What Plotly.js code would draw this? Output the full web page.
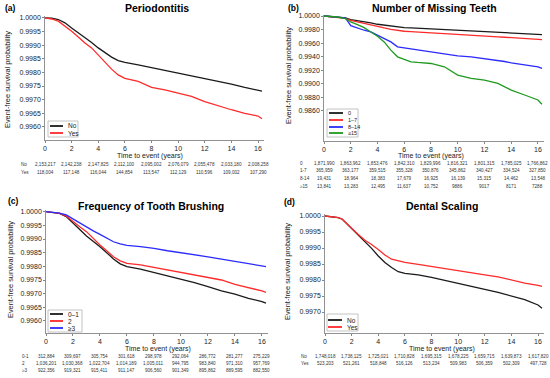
<!DOCTYPE html>
<html><head><meta charset="utf-8">
<script src="https://cdn.plot.ly/plotly-3.0.1.min.js"></script>
<style>html,body{margin:0;padding:0;background:#fff}#chart{width:550px;height:378px}</style>
</head><body><div id="chart"></div>
<script>
// ---------- DATA ----------
const xTicks = [0,2,4,6,8,10,12,14,16];

// (a) Periodontitis
const tA = [0,0.5,1,1.5,2,2.5,3,3.5,4,4.5,5,5.5,6,7,8,9,10,11,12,13,14,15,16,16.3];
const aNo  = [1.0000,0.99999,0.99994,0.99982,0.99963,0.99946,0.99929,0.99910,0.99890,0.99872,0.99856,0.99843,0.99837,0.99828,0.99818,0.99808,0.99798,0.99788,0.99777,0.99767,0.99757,0.99745,0.99735,0.99731];
const aYes = [1.0000,0.99996,0.99988,0.99970,0.99951,0.99930,0.99908,0.99890,0.99865,0.99840,0.99812,0.99791,0.99778,0.99767,0.99745,0.99736,0.99724,0.99712,0.99693,0.99677,0.99663,0.99650,0.99640,0.99630];
const aLabels = ["No","Yes"];
const aRiskNo  = ["2,153,217","2,142,238","2,147,825","2,112,100","2,095,002","2,076,079","2,055,478","2,033,180","2,008,258"];
const aRiskYes = ["118,004","117,148","116,044","144,854","113,547","112,129","110,596","109,002","107,290"];

// (b) Number of Missing Teeth
const tB = [0,1,1.6,2,2.5,3,3.5,4,4.5,5,5.5,6,6.5,7,8,9,10,11,12,13,13.5,14,15,16,16.3];
const b0   = [1.0,0.99985,0.99971,0.99946,0.99932,0.99912,0.99897,0.99878,0.99863,0.99848,0.99834,0.99829,0.99824,0.99819,0.99814,0.99804,0.99794,0.99784,0.99775,0.99765,0.99760,0.99755,0.99741,0.99731,0.99726];
const b1_7 = [1.0,0.99985,0.99966,0.99936,0.99912,0.99887,0.99868,0.99848,0.99824,0.99804,0.99785,0.99775,0.99770,0.99760,0.99750,0.99741,0.99726,0.99716,0.99701,0.99692,0.99687,0.99682,0.99667,0.99657,0.99652];
const b8_14= [1.0,0.99985,0.99971,0.99858,0.99819,0.99790,0.99765,0.99716,0.99677,0.99618,0.99545,0.99530,0.99520,0.99510,0.99471,0.99447,0.99413,0.99398,0.99373,0.99349,0.99329,0.99310,0.99285,0.99251,0.99227];
const b15  = [1.0,0.99985,0.99961,0.99912,0.99873,0.99829,0.99765,0.99701,0.99618,0.99496,0.99398,0.99359,0.99325,0.99315,0.99300,0.99251,0.99129,0.99080,0.99055,0.99006,0.98957,0.98908,0.98835,0.98762,0.98698];
const bLabels = ["0","1\u20137","8\u201314","\u226515"];
const bRowLabels = ["0","1-7","8-14","\u226515"];
const bRisk0   = ["1,871,990","1,863,962","1,853,476","1,842,310","1,829,996","1,816,321","1,801,315","1,785,025","1,766,862"];
const bRisk1_7 = ["365,959","363,177","359,515","355,328","350,876","345,862","340,427","334,524","327,850"];
const bRisk8_14= ["19,431","18,964","18,383","17,679","16,925","16,139","15,315","14,462","13,548"];
const bRisk15  = ["13,841","13,283","12,495","11,637","10,752","9886","9017","8171","7288"];

// (c) Frequency of Tooth Brushing
const tC = [0,1,1.5,2,2.5,3,3.5,4,4.5,5,5.5,6,7,8,9,10,11,12,13,14,15,16,16.3];
const c0_1 = [1.0,0.99994,0.99982,0.99957,0.99935,0.99911,0.99893,0.99872,0.99850,0.99827,0.99809,0.99799,0.99790,0.99778,0.99766,0.99752,0.99740,0.99726,0.99710,0.99698,0.99683,0.99671,0.99665];
const c2   = [1.0,0.99994,0.99984,0.99963,0.99945,0.99927,0.99902,0.99878,0.99857,0.99835,0.99820,0.99811,0.99805,0.99796,0.99787,0.99777,0.99768,0.99759,0.99750,0.99734,0.99723,0.99710,0.99705];
const c3   = [1.0,0.99995,0.99988,0.99973,0.99957,0.99943,0.99930,0.99917,0.99902,0.99890,0.99882,0.99877,0.99872,0.99866,0.99857,0.99850,0.99843,0.99835,0.99826,0.99817,0.99808,0.99801,0.99799];
const cLabels = ["0\u20131","2","\u22653"];
const cRowLabels = ["0-1","2","\u22653"];
const cRisk0_1 = ["312,884","309,697","305,754","301,618","298,978","292,064","286,772","281,277","275,229"];
const cRisk2   = ["1,036,201","1,030,368","1,022,704","1,014,189","1,005,011","944,795","983,840","971,310","957,769"];
const cRisk3   = ["922,356","919,321","915,411","911,147","906,560","901,349","895,862","889,595","882,550"];

// (d) Dental Scaling
const tD = [0,1,1.3,2,2.5,3,3.5,4,4.5,5,5.5,6,7,8,9,10,11,12,13,14,15,16,16.3];
const dNo  = [1.0,0.99995,0.99990,0.99961,0.99942,0.99921,0.99899,0.99875,0.99855,0.99839,0.99826,0.99821,0.99816,0.99808,0.99799,0.99790,0.99782,0.99771,0.99761,0.99749,0.99739,0.99722,0.99712];
const dYes = [1.0,0.99995,0.99990,0.99961,0.99942,0.99924,0.99911,0.99895,0.99878,0.99865,0.99859,0.99855,0.99849,0.99842,0.99836,0.99829,0.99823,0.99816,0.99810,0.99800,0.99790,0.99783,0.99780];
const dLabels = ["No","Yes"];
const dRiskNo  = ["1,748,018","1,738,125","1,725,021","1,710,828","1,695,315","1,678,225","1,659,715","1,639,873","1,617,820"];
const dRiskYes = ["523,203","521,261","518,848","516,126","513,234","509,983","506,359","502,309","497,728"];

const titles = ["Periodontitis","Number of Missing Teeth","Frequency of Tooth Brushing","Dental Scaling"];
const panelTags = ["(a)","(b)","(c)","(d)"];
const yTicksA = [0.9960,0.9965,0.9970,0.9975,0.9980,0.9985,0.9990,0.9995,1.0000];
const yTicksB = [0.9860,0.9880,0.9900,0.9920,0.9940,0.9960,0.9980,1.0000];
const yTicksD = [0.9970,0.9975,0.9980,0.9985,0.9990,0.9995,1.0000];

// ---------- LAYOUT HELPERS ----------
const W = 550, H = 378;
const FONT = "Liberation Sans, Arial, Helvetica, sans-serif";
const px = x => x / W;
const py = y => 1 - y / H;
const BLACK = "#1a1a1a", RED = "#ff2a2a", BLUE = "#2b2bff", GREEN = "#1f9a1f";

const panels = [
  {xa:"x",  ya:"y",  dom:[45,264], ydom:[16,140], yr:[0.99552,1.00007], yt:yTicksA,
   series:[[tA,aNo,BLACK],[tA,aYes,RED]], labels:aLabels,
   rows:[aLabels, [aRiskNo,aRiskYes]], rowY:[164,172], rowX:19,
   title:[157,8], tag:[3,8], xt:[150,156.5], yt2:[7,80],
   leg:{box:[48,78,121,137], lx:[50,63], tx:66, ys:[126,133]}},
  {xa:"x2", ya:"y2", dom:[324,544], ydom:[15,141], yr:[0.98157,1.000147], yt:yTicksB,
   series:[[tB,b0,BLACK],[tB,b1_7,RED],[tB,b8_14,BLUE],[tB,b15,GREEN]], labels:bLabels,
   rows:[bRowLabels,[bRisk0,bRisk1_7,bRisk8_14,bRisk15]], rowY:[163.5,171,179,187], rowX:298,
   title:[434,8], tag:[286,8], xt:[431,156], yt2:[288,76],
   leg:{box:[327,358,109,137], lx:[329,343], tx:346, ys:[113,120,127,133]}},
  {xa:"x3", ya:"y3", dom:[46,268], ydom:[210,333], yr:[0.99556,1.000062], yt:yTicksA,
   series:[[tC,c0_1,BLACK],[tC,c2,RED],[tC,c3,BLUE]], labels:cLabels,
   rows:[cRowLabels,[cRisk0_1,cRisk2,cRisk3]], rowY:[356,363,370], rowX:20,
   title:[151,206], tag:[6,201], xt:[158,348.5], yt2:[10,270],
   leg:{box:[48,82,310,332], lx:[50,63], tx:66, ys:[314,321,328]}},
  {xa:"x4", ya:"y4", dom:[325,544], ydom:[214,333], yr:[0.996344,1.0000625], yt:yTicksD,
   series:[[tD,dNo,BLACK],[tD,dYes,RED]], labels:dLabels,
   rows:[dLabels,[dRiskNo,dRiskYes]], rowY:[356.5,363.5], rowX:299,
   title:[442,206], tag:[282,202], xt:[442,349], yt2:[287,272],
   leg:{box:[327,358,314,331], lx:[328,342], tx:345, ys:[320,327]}}
];

const data = [], annotations = [], shapes = [];
const layout = {
  width: W, height: H, margin:{l:0,r:0,t:0,b:0},
  paper_bgcolor:"#fff", plot_bgcolor:"#fff", showlegend:false,
  font:{family:FONT, color:"#222"}
};

panels.forEach((p, i) => {
  const n = i === 0 ? "" : String(i + 1);
  layout["xaxis" + n] = {
    domain:[px(p.dom[0]), px(p.dom[1])], range:[0,16.45], anchor:p.ya,
    tickvals:xTicks, ticktext:xTicks.map(String), ticks:"outside", ticklen:2, tickwidth:0.8,
    tickcolor:"#666", showline:true, linecolor:"#777", linewidth:0.8,
    showgrid:false, zeroline:false, tickfont:{size:7, family:FONT, color:"#222"}
  };
  layout["yaxis" + n] = {
    domain:[py(p.ydom[1]), py(p.ydom[0])], range:p.yr, anchor:p.xa,
    tickvals:p.yt, ticktext:p.yt.map(v => v.toFixed(4)), ticks:"outside", ticklen:2, tickwidth:0.8,
    tickcolor:"#666", showline:true, linecolor:"#777", linewidth:0.8,
    showgrid:false, zeroline:false, tickfont:{size:7, family:FONT, color:"#222"}
  };
  p.series.forEach(([t, v, c], k) => {
    data.push({type:"scatter", mode:"lines", x:t, y:v, xaxis:p.xa, yaxis:p.ya,
      name:p.labels[k], line:{color:c, width:1.3}, hoverinfo:"skip"});
  });
  // titles
  annotations.push({xref:"paper", yref:"paper", x:px(p.title[0]), y:py(p.title[1]), text:"<b>"+titles[i]+"</b>",
    showarrow:false, xanchor:"center", yanchor:"middle", font:{size:10.5, family:FONT, color:"#000"}});
  annotations.push({xref:"paper", yref:"paper", x:px(p.tag[0]), y:py(p.tag[1]), text:"<b>"+panelTags[i]+"</b>",
    showarrow:false, xanchor:"left", yanchor:"middle", font:{size:8.5, family:FONT, color:"#000"}});
  annotations.push({xref:"paper", yref:"paper", x:px(p.xt[0]), y:py(p.xt[1]), text:"Time to event (years)",
    showarrow:false, xanchor:"center", yanchor:"middle", font:{size:7, family:FONT, color:"#222"}});
  annotations.push({xref:"paper", yref:"paper", x:px(p.yt2[0]), y:py(p.yt2[1]), text:"Event-free survival probability",
    showarrow:false, textangle:-90, xanchor:"center", yanchor:"middle", font:{size:7.4, family:FONT, color:"#222"}});
  // risk table
  const [rLab, rVals] = p.rows;
  rVals.forEach((row, r) => {
    annotations.push({xref:"paper", yref:"paper", x:px(p.rowX), y:py(p.rowY[r]), text:rLab[r],
      showarrow:false, xanchor:"left", yanchor:"middle", font:{size:4.6, family:FONT, color:"#333"}});
    row.forEach((val, j) => {
      annotations.push({xref:p.xa, yref:"paper", x:xTicks[j], y:py(p.rowY[r]), text:val,
        showarrow:false, xanchor:"center", yanchor:"middle", font:{size:4.6, family:FONT, color:"#333"}});
    });
  });
  // legend
  const L = p.leg;
  shapes.push({type:"rect", xref:"paper", yref:"paper", x0:px(L.box[0]), x1:px(L.box[1]),
    y0:py(L.box[3]), y1:py(L.box[2]), line:{color:"#aaa", width:0.7}, fillcolor:"#fff", layer:"above"});
  p.series.forEach(([t, v, c], k) => {
    shapes.push({type:"line", xref:"paper", yref:"paper", x0:px(L.lx[0]), x1:px(L.lx[1]),
      y0:py(L.ys[k]), y1:py(L.ys[k]), line:{color:c, width:1.8}, layer:"above"});
    annotations.push({xref:"paper", yref:"paper", x:px(L.tx), y:py(L.ys[k]), text:p.labels[k],
      showarrow:false, xanchor:"left", yanchor:"middle", font:{size:i===1?5.5:6.5, family:FONT, color:"#222"}});
  });
});

layout.annotations = annotations;
layout.shapes = shapes;
Plotly.newPlot("chart", data, layout, {staticPlot:true, displayModeBar:false});
</script></body></html>
